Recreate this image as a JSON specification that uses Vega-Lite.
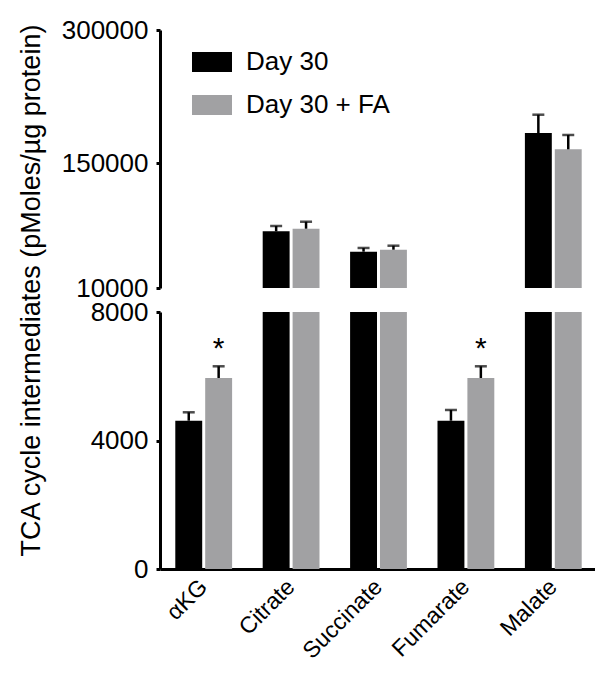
{
  "$schema": "https://vega.github.io/schema/vega-lite/v6.json",
  "autosize": {"type": "pad"},
  "padding": {"top": 17, "left": 17, "right": 0, "bottom": 5},
  "background": "white",
  "bounds": "flush",
  "spacing": 24,
  "datasets": {
    "bars": [
      {"metabolite": "αKG", "group": "Day 30", "value": 4616, "hi": 4878},
      {"metabolite": "αKG", "group": "Day 30 + FA", "value": 5946, "hi": 6310},
      {"metabolite": "Citrate", "group": "Day 30", "value": 73700, "hi": 79700},
      {"metabolite": "Citrate", "group": "Day 30 + FA", "value": 76650, "hi": 84500},
      {"metabolite": "Succinate", "group": "Day 30", "value": 50800, "hi": 55000},
      {"metabolite": "Succinate", "group": "Day 30 + FA", "value": 53050, "hi": 57550},
      {"metabolite": "Fumarate", "group": "Day 30", "value": 4616, "hi": 4950},
      {"metabolite": "Fumarate", "group": "Day 30 + FA", "value": 5946, "hi": 6310},
      {"metabolite": "Malate", "group": "Day 30", "value": 184200, "hi": 204800},
      {"metabolite": "Malate", "group": "Day 30 + FA", "value": 165900, "hi": 182000}
    ],
    "stars": [
      {"metabolite": "αKG", "group": "Day 30 + FA", "pos": 6850, "label": "*"},
      {"metabolite": "Fumarate", "group": "Day 30 + FA", "pos": 6850, "label": "*"}
    ]
  },
  "config": {
    "font": "Liberation Sans",
    "view": {"stroke": null},
    "axis": {
      "domainColor": "black",
      "domainWidth": 3,
      "tickColor": "black",
      "tickWidth": 3,
      "tickSize": 4,
      "labelFont": "Liberation Sans",
      "labelFontSize": 26,
      "labelColor": "black",
      "titleFont": "Liberation Sans",
      "titleColor": "black",
      "grid": false
    }
  },
  "vconcat": [
    {
      "width": 437,
      "height": 258,
      "data": {"name": "bars"},
      "encoding": {
        "x": {"field": "metabolite", "type": "nominal",
              "scale": {"domain": ["αKG", "Citrate", "Succinate", "Fumarate", "Malate"], "paddingInner": 0.35, "paddingOuter": 0.175},
              "axis": null},
        "xOffset": {"field": "group", "type": "nominal",
                    "scale": {"domain": ["Day 30", "Day 30 + FA"], "paddingInner": 0.1}}
      },
      "layer": [
        {
          "mark": {"type": "bar", "clip": true},
          "encoding": {
            "y": {"field": "value", "type": "quantitative",
                  "scale": {"domain": [10000, 300000], "zero": false, "nice": false},
                  "axis": {"values": [10000, 150000, 300000], "format": "d", "labelPadding": 8,
                           "title": "TCA cycle intermediates  (pMoles/µg protein)",
                           "titleFontSize": 27, "titleFontWeight": "normal",
                           "titlePadding": 16, "titleY": 260}},
            "color": {"field": "group", "type": "nominal",
                      "scale": {"domain": ["Day 30", "Day 30 + FA"], "range": ["#000000", "#a1a1a3"]},
                      "legend": {"orient": "none", "legendX": 32, "legendY": 12, "title": null,
                                 "padding": 0, "symbolType": "M-1,-0.5H1V0.5H-1Z", "symbolSize": 1600,
                                 "symbolStrokeWidth": 0, "symbolOpacity": 1, "rowPadding": 10,
                                 "labelFontSize": 26, "labelFont": "Liberation Sans", "labelColor": "black",
                                 "labelOffset": 14, "labelLimit": 300}}
          }
        },
        {
          "mark": {"type": "rule", "clip": true, "color": "black", "strokeWidth": 2.5},
          "encoding": {
            "y": {"field": "value", "type": "quantitative"},
            "y2": {"field": "hi"}
          }
        },
        {
          "mark": {"type": "tick", "clip": true, "color": "black", "thickness": 2.5, "size": 12},
          "encoding": {
            "y": {"field": "hi", "type": "quantitative"}
          }
        }
      ]
    },
    {
      "width": 437,
      "height": 257,
      "encoding": {
        "x": {"field": "metabolite", "type": "nominal",
              "scale": {"domain": ["αKG", "Citrate", "Succinate", "Fumarate", "Malate"], "paddingInner": 0.35, "paddingOuter": 0.175},
              "axis": {"title": null, "labelAngle": -45, "ticks": false, "labelPadding": 14,
                       "labelFontSize": 23, "labelBaseline": "middle"}},
        "xOffset": {"field": "group", "type": "nominal",
                    "scale": {"domain": ["Day 30", "Day 30 + FA"], "paddingInner": 0.1}}
      },
      "layer": [
        {
          "data": {"name": "bars"},
          "mark": {"type": "bar", "clip": true},
          "encoding": {
            "y": {"field": "value", "type": "quantitative",
                  "scale": {"domain": [0, 8000], "nice": false},
                  "axis": {"values": [0, 4000, 8000], "format": "d", "labelPadding": 8, "title": null}},
            "color": {"field": "group", "type": "nominal",
                      "scale": {"domain": ["Day 30", "Day 30 + FA"], "range": ["#000000", "#a1a1a3"]},
                      "legend": null}
          }
        },
        {
          "data": {"name": "bars"},
          "mark": {"type": "rule", "clip": true, "color": "black", "strokeWidth": 2.5},
          "encoding": {
            "y": {"field": "value", "type": "quantitative"},
            "y2": {"field": "hi"}
          }
        },
        {
          "data": {"name": "bars"},
          "mark": {"type": "tick", "clip": true, "color": "black", "thickness": 2.5, "size": 12},
          "encoding": {
            "y": {"field": "hi", "type": "quantitative"}
          }
        },
        {
          "data": {"name": "stars"},
          "mark": {"type": "text", "fontSize": 30, "color": "black", "baseline": "middle", "font": "Liberation Sans"},
          "encoding": {
            "y": {"field": "pos", "type": "quantitative"},
            "text": {"field": "label"}
          }
        }
      ]
    }
  ],
  "resolve": {"scale": {"y": "independent"}}
}
